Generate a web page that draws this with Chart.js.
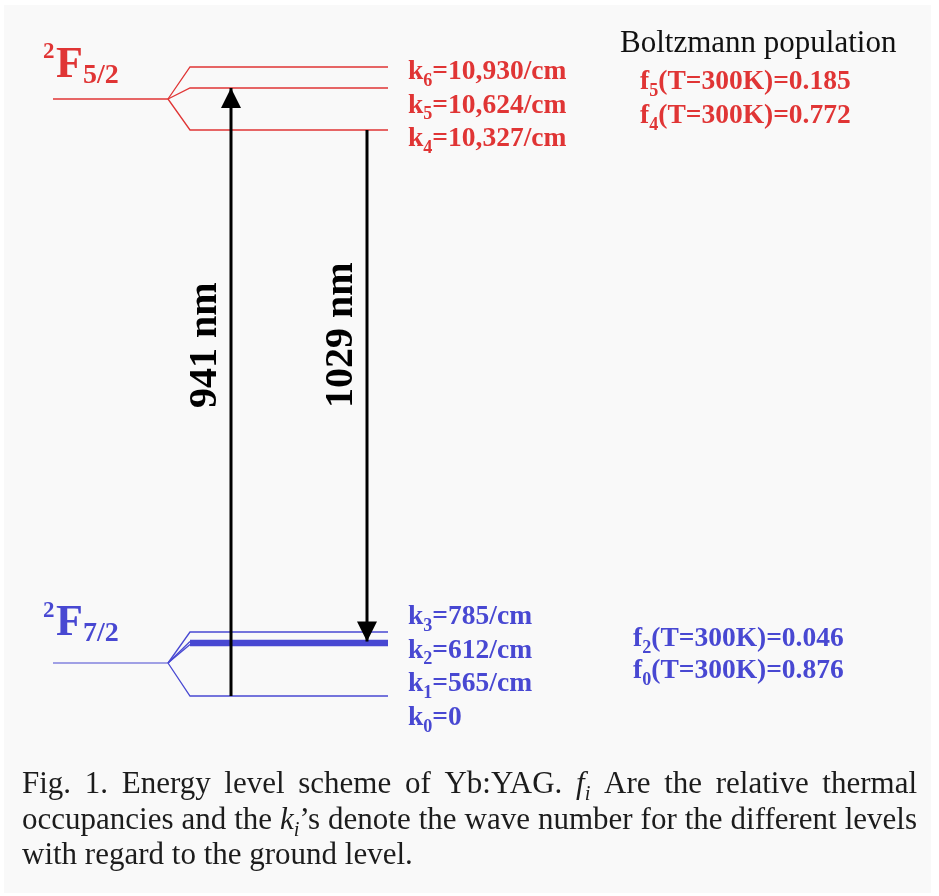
<!DOCTYPE html>
<html>
<head>
<meta charset="utf-8">
<script src="https://cdn.jsdelivr.net/npm/chart.js@4.4.1/dist/chart.umd.min.js"></script>
<style>
  html, body { margin: 0; padding: 0; background: #fff; }
  #wrap { width: 939px; height: 896px; }
  canvas { display: block; }
</style>
</head>
<body>
<div id="wrap"><canvas id="levels" width="939" height="896"></canvas></div>
<script>
// Yb:YAG energy level scheme. Heights are schematic (ground level = 0), as drawn.
const upperNames = ['k6', 'k5', 'k4'];
const upperWaveNumbers = ['10,930/cm', '10,624/cm', '10,327/cm'];
const upperHeights = [629, 608, 566];
const upperParentHeight = 597;

const lowerNames = ['k3', 'k2', 'k1', 'k0'];
const lowerWaveNumbers = ['785/cm', '612/cm', '565/cm', '0'];
const lowerHeights = [64, 54.5, 51.5, 0];
const lowerParentHeight = 33;

// Boltzmann populations at T = 300 K
const upperPopNames = ['f5', 'f4'];
const upperPopValues = ['0.185', '0.772'];
const lowerPopNames = ['f2', 'f0'];
const lowerPopValues = ['0.046', '0.876'];

// transitions (arrows)
const transitionLabels = ['941 nm', '1029 nm'];
const transitionFrom = ['k0', 'k4'];
const transitionTo = ['k5', 'k2'];

const captionLines = [
    'Fig. 1. Energy level scheme of Yb:YAG. *f_i* Are the relative thermal',
    'occupancies and the *k_i*\u2019s denote the wave number for the different levels',
    'with regard to the ground level.'
];

// layout (x in diagram units)
const RED = '#e03535';
const BLUE = '#4848d2';
const parentStartX = 53;
const fanX = 168;
const levelStartX = 190;
const levelEndX = 388;
const arrowX = [231, 367];
const SERIF = '"Liberation Serif", "Times New Roman", serif';

const levelHeight = {};
upperNames.forEach((n, i) => levelHeight[n] = upperHeights[i]);
lowerNames.forEach((n, i) => levelHeight[n] = lowerHeights[i]);

function levelDataset(h, parent, color, thick) {
    return {
        data: [{ x: fanX, y: parent }, { x: levelStartX, y: h }, { x: levelEndX, y: h }],
        borderColor: color,
        borderWidth: 1.4,
        segment: {
            borderWidth: ctx => (thick && ctx.p0DataIndex === 1) ? 3.5 : 1.3
        },
        pointRadius: 0,
        order: 2
    };
}

const datasets = [];
datasets.push({
    data: [{ x: parentStartX, y: upperParentHeight }, { x: fanX, y: upperParentHeight }],
    borderColor: RED, borderWidth: 1.4, pointRadius: 0, order: 2
});
upperHeights.forEach(h => datasets.push(levelDataset(h, upperParentHeight, RED, false)));
datasets.push({
    data: [{ x: parentStartX, y: lowerParentHeight }, { x: fanX, y: lowerParentHeight }],
    borderColor: BLUE, borderWidth: 1.2, pointRadius: 0, order: 2
});
lowerNames.forEach((n, i) => {
    const thick = n === 'k2' || n === 'k1';
    datasets.push(levelDataset(lowerHeights[i], lowerParentHeight, BLUE, thick));
});
transitionLabels.forEach((lab, i) => {
    datasets.push({
        data: [
            { x: arrowX[i], y: levelHeight[transitionFrom[i]] },
            { x: arrowX[i], y: levelHeight[transitionTo[i]] }
        ],
        borderColor: '#000',
        borderWidth: 3,
        pointRadius: 0,
        order: 0
    });
});

// draws text made of runs: [text, size, dy]
function drawRuns(ctx, x, y, runs, weight, color) {
    ctx.fillStyle = color;
    ctx.textAlign = 'left';
    ctx.textBaseline = 'alphabetic';
    let cx = x;
    runs.forEach(([t, size, dy]) => {
        ctx.font = `${weight} ${size}px ${SERIF}`;
        ctx.fillText(t, cx, y + (dy || 0));
        cx += ctx.measureText(t).width;
    });
}

function subLabel(name, rest, size) {
    return [[name[0], size], [name.slice(1), size * 0.66, size * 0.24], [rest, size]];
}

function drawCaption(ctx) {
    const size = 31, left = 22, right = 917;
    const baselines = [793, 829, 864];
    ctx.fillStyle = '#1c1c1c';
    ctx.textBaseline = 'alphabetic';
    captionLines.forEach((line, li) => {
        const words = line.split(' ').map(w => {
            const m = w.match(/^\*(\w)_(\w)\*(.*)$/);
            if (!m) return [[w, false, false]];
            return [[m[1], true, false], [m[2], true, true], [m[3], false, false]];
        });
        const measure = run => {
            const s = run[2] ? size * 0.66 : size;
            ctx.font = `${run[1] ? 'italic ' : ''}${s}px ${SERIF}`;
            return ctx.measureText(run[0]).width;
        };
        const widths = words.map(w => w.reduce((a, r) => a + measure(r), 0));
        const total = widths.reduce((a, b) => a + b, 0);
        const last = li === captionLines.length - 1;
        ctx.font = `${size}px ${SERIF}`;
        let gap = ctx.measureText(' ').width;
        let sx = 1;
        if (!last) {
            gap = (right - left - total) / (words.length - 1);
            if (gap < size * 0.2) {
                gap = size * 0.2;
                sx = (right - left - gap * (words.length - 1)) / total;
            }
        }
        let cx = left;
        words.forEach(w => {
            w.forEach(r => {
                const s = r[2] ? size * 0.66 : size;
                ctx.font = `${r[1] ? 'italic ' : ''}${s}px ${SERIF}`;
                ctx.save();
                ctx.translate(cx, baselines[li] + (r[2] ? size * 0.22 : 0));
                ctx.scale(sx, 1);
                ctx.fillText(r[0], 0, 0);
                ctx.restore();
                cx += ctx.measureText(r[0]).width * sx;
            });
            cx += gap;
        });
    });
}

const diagramPlugin = {
    id: 'diagram',
    beforeDraw(chart) {
        const ctx = chart.ctx;
        ctx.save();
        ctx.fillStyle = '#ffffff';
        ctx.fillRect(0, 0, chart.width, chart.height);
        ctx.fillStyle = '#f9f9f9';
        ctx.fillRect(4, 5, 927, 888);
        ctx.restore();
    },
    afterDatasetsDraw(chart) {
        const ctx = chart.ctx;
        const xs = chart.scales.x, ys = chart.scales.y;
        ctx.save();

        // arrow heads and rotated wavelength labels
        transitionLabels.forEach((lab, i) => {
            const px = xs.getPixelForValue(arrowX[i]);
            const from = ys.getPixelForValue(levelHeight[transitionFrom[i]]);
            const tip = ys.getPixelForValue(levelHeight[transitionTo[i]]);
            const dir = tip < from ? 1 : -1;
            ctx.fillStyle = '#000';
            ctx.beginPath();
            ctx.moveTo(px, tip);
            ctx.lineTo(px - 10, tip + dir * 20);
            ctx.lineTo(px + 10, tip + dir * 20);
            ctx.closePath();
            ctx.fill();

            ctx.save();
            ctx.translate(px - 15, 408);
            ctx.rotate(-Math.PI / 2);
            ctx.font = `bold 40px ${SERIF}`;
            ctx.textAlign = 'left';
            ctx.textBaseline = 'alphabetic';
            ctx.fillText(lab, 0, 0);
            ctx.restore();
        });

        // term symbols
        drawRuns(ctx, 43, 58, [['2', 23]], 'bold', RED);
        drawRuns(ctx, 56, 77, [['F', 44], ['5/2', 28, 6]], 'bold', RED);
        drawRuns(ctx, 43, 617, [['2', 23]], 'bold', BLUE);
        drawRuns(ctx, 56, 635, [['F', 44], ['7/2', 28, 6]], 'bold', BLUE);

        // wave number labels
        upperNames.forEach((n, i) => {
            drawRuns(ctx, 408, 79 + i * 33.5, subLabel(n, '=' + upperWaveNumbers[i], 27.5), 'bold', RED);
        });
        lowerNames.forEach((n, i) => {
            drawRuns(ctx, 408, 624 + i * 33.7, subLabel(n, '=' + lowerWaveNumbers[i], 27.5), 'bold', BLUE);
        });

        // Boltzmann populations
        drawRuns(ctx, 620, 52, [['Boltzmann population', 31]], 'normal', '#111');
        upperPopNames.forEach((n, i) => {
            drawRuns(ctx, 640, 89 + i * 34, subLabel(n, '(T=300K)=' + upperPopValues[i], 27.5), 'bold', RED);
        });
        lowerPopNames.forEach((n, i) => {
            drawRuns(ctx, 633, 646 + i * 32, subLabel(n, '(T=300K)=' + lowerPopValues[i], 27.5), 'bold', BLUE);
        });

        drawCaption(ctx);
        ctx.restore();
    }
};

new Chart(document.getElementById('levels'), {
    type: 'line',
    data: { datasets: datasets },
    options: {
        responsive: false,
        animation: false,
        devicePixelRatio: 1,
        layout: { padding: 0 },
        plugins: { legend: { display: false }, tooltip: { enabled: false } },
        scales: {
            x: { type: 'linear', min: 0, max: 939, display: false },
            y: { type: 'linear', min: -200, max: 696, display: false }
        }
    },
    plugins: [diagramPlugin]
});
</script>
</body>
</html>
